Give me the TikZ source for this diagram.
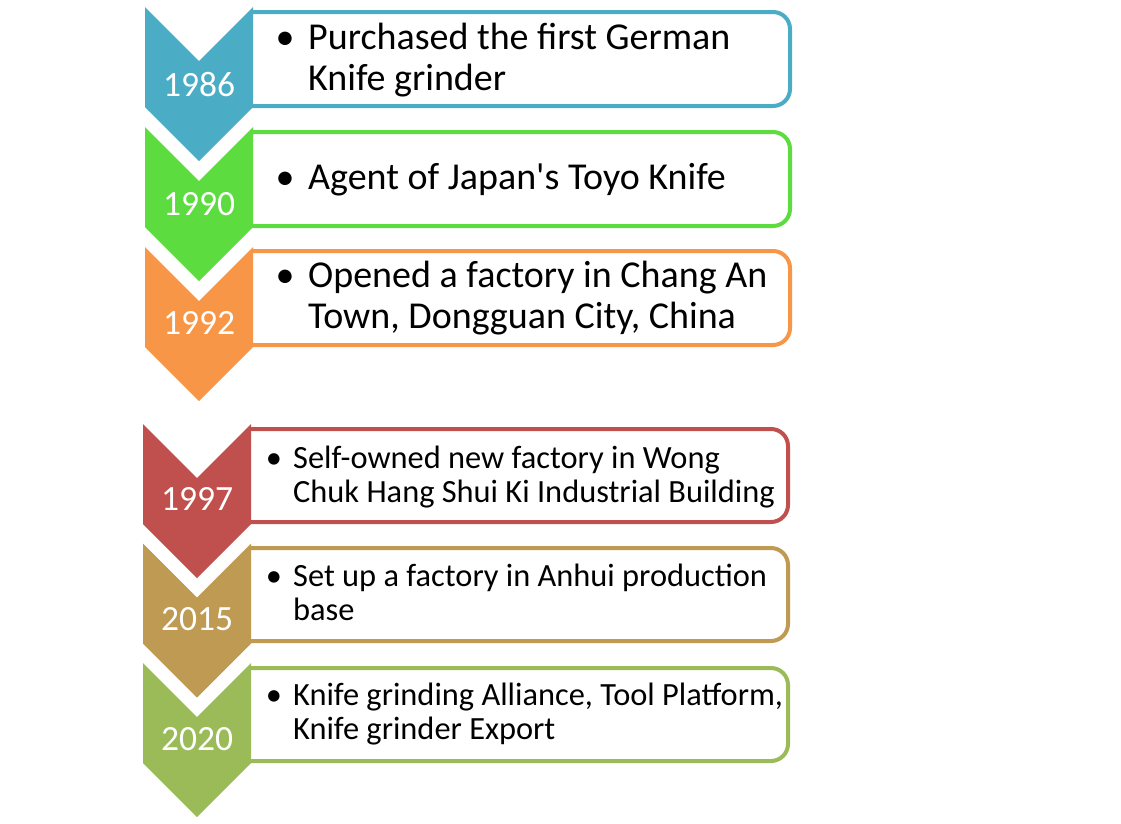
\documentclass[tikz,border=0pt]{standalone}
\usepackage{fontspec}
\setmainfont{Carlito}[Ligatures=TeXOff]
\definecolor{cA}{HTML}{4BACC6}
\definecolor{cB}{HTML}{5CDC3E}
\definecolor{cC}{HTML}{F79646}
\definecolor{cD}{HTML}{C0504D}
\definecolor{cE}{HTML}{BE9A52}
\definecolor{cF}{HTML}{9BBB59}
\tikzset{
  yeartext/.style={text=white,font=\fontsize{35.5}{35.5}\selectfont,anchor=base,inner sep=0pt},
  bigtext/.style={anchor=base west,inner sep=0pt,font=\fontsize{38}{38}\selectfont},
  smalltext/.style={anchor=base west,inner sep=0pt,font=\fontsize{32.4}{32.4}\selectfont},
  boxline/.style={line width=4pt,rounded corners=17pt},
}
% chevron: #1 left x, #2 top y, #3 colour
\newcommand{\mychev}[3]{%
  \fill[#3] (#1,#2) -- (#1+54,#2+54) -- (#1+108,#2) -- (#1+108,#2+100) -- (#1+54,#2+154) -- (#1,#2+100) -- cycle;}
% box: #1 left x, #2 right x, #3 top y, #4 bottom y, #5 colour
\newcommand{\mybox}[5]{%
  \fill[white] (#1-4,#3) rectangle (#2,#4);
  \draw[boxline,#5] (#1-4,#3) -- (#2,#3) -- (#2,#4) -- (#1-4,#4);}
\begin{document}
\begin{tikzpicture}[x=1pt,y=-1pt]
\useasboundingbox[fill=white] (0,0) rectangle (1121,823);
% upper group
\mybox{255}{790}{12}{106}{cA}
\mychev{145}{7}{cA}
\mybox{255}{790}{132}{226}{cB}
\mychev{145}{127}{cB}
\mybox{255}{790}{251}{345}{cC}
\mychev{145}{247}{cC}
% lower group
\mybox{253}{788}{429}{522}{cD}
\mychev{143}{424}{cD}
\mybox{253}{788}{548}{641}{cE}
\mychev{143}{543.5}{cE}
\mybox{253}{788}{668}{761}{cF}
\mychev{143}{663}{cF}
% years
\node[yeartext] (y1986) at (199,96) {1986};
\node[yeartext] (y1990) at (199,215) {1990};
\node[yeartext] (y1992) at (199,334) {1992};
\node[yeartext] (y1997) at (197,510) {1997};
\node[yeartext] (y2015) at (197,630) {2015};
\node[yeartext] (y2020) at (197,750) {2020};
% texts upper
\node[bigtext,anchor=base] (b1) at (285,49) {\textbullet};
\node[bigtext] (t1a) at (308,49) {Purchased the first German};
\node[bigtext] (t1b) at (308,90) {Knife grinder};
\node[bigtext,anchor=base] (b2) at (285,189) {\textbullet};
\node[bigtext] (t2a) at (308,189) {Agent of Japan's Toyo Knife};
\node[bigtext,anchor=base] (b3) at (285,287) {\textbullet};
\node[bigtext] (t3a) at (308,287) {Opened a factory in Chang An};
\node[bigtext] (t3b) at (308,328) {Town, Dongguan City, China};
% texts lower
\node[smalltext,anchor=base] (b4) at (274,468) {\textbullet};
\node[smalltext] (t4a) at (293,468) {Self-owned new factory in Wong};
\node[smalltext] (t4b) at (293,502) {Chuk Hang Shui Ki Industrial Building};
\node[smalltext,anchor=base] (b5) at (274,586) {\textbullet};
\node[smalltext] (t5a) at (293,586) {Set up a factory in Anhui production};
\node[smalltext] (t5b) at (293,620) {base};
\node[smalltext,anchor=base] (b6) at (274,705) {\textbullet};
\node[smalltext] (t6a) at (293,705) {Knife grinding Alliance, Tool Platform,};
\node[smalltext] (t6b) at (293,739) {Knife grinder Export};
\end{tikzpicture}
\end{document}
